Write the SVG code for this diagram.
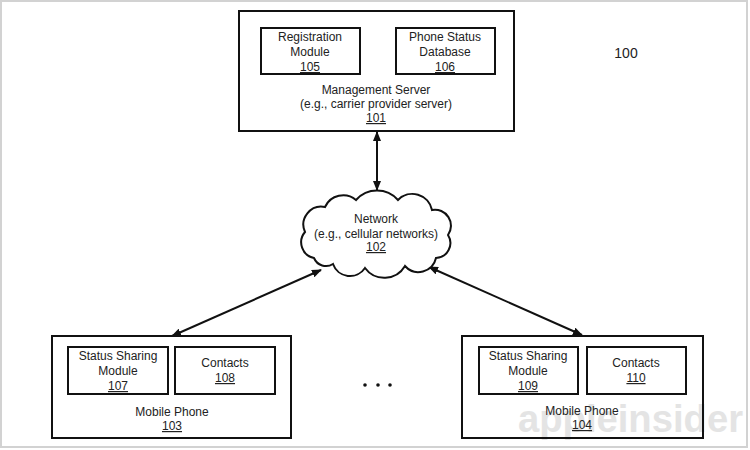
<svg xmlns="http://www.w3.org/2000/svg" width="750" height="450" viewBox="0 0 750 450">
<style>
.box{fill:#fff;stroke:#111;stroke-width:2}
.ibox{fill:#fff;stroke:#111;stroke-width:2}
text{font-family:"Liberation Sans",Arial,sans-serif;font-size:12px;fill:#222;text-anchor:middle}
.u{text-decoration:underline}
.conn{stroke:#111;stroke-width:2;fill:none;marker-start:url(#ah);marker-end:url(#ah)}
.wm{font-size:38px;font-weight:bold;fill:#e4e4e4;text-anchor:start}
</style>
<defs>
<marker id="ah" viewBox="0 0 10 8" refX="9" refY="4" markerWidth="10" markerHeight="8" markerUnits="userSpaceOnUse" orient="auto-start-reverse">
<path d="M0,0 L10,4 L0,8 Z" fill="#111"/>
</marker>
</defs>
<rect x="0" y="0" width="750" height="450" fill="#fff"/>
<rect x="1" y="1" width="746" height="446" fill="none" stroke="#d2d2d2" stroke-width="2"/>
<text class="wm" x="518" y="432" textLength="225" lengthAdjust="spacingAndGlyphs">appleinsider</text>

<g id="connectors">
<line class="conn" x1="377" y1="132" x2="377" y2="190"/>
<line class="conn" x1="321" y1="270" x2="172" y2="336"/>
<line class="conn" x1="429" y1="267" x2="582" y2="335"/>
<line x1="360" y1="52" x2="396" y2="52" stroke="#111" stroke-width="2"/>
</g>

<g id="n101">
<rect class="box" x="239" y="11" width="275" height="120"/>
<text x="376" y="94">Management Server</text>
<text x="376" y="108">(e.g., carrier provider server)</text>
<text class="u" x="376" y="122">101</text>
</g>
<g id="n105">
<rect class="ibox" x="261" y="28" width="99" height="46"/>
<text x="310" y="41">Registration</text>
<text x="310" y="56">Module</text>
<text class="u" x="310" y="71">105</text>
</g>
<g id="n106">
<rect class="ibox" x="396" y="28" width="99" height="46"/>
<text x="445" y="41">Phone Status</text>
<text x="445" y="56">Database</text>
<text class="u" x="445" y="71">106</text>
</g>

<g id="n102">
<path d="M314,258 A16,16 0 0 1 305,232 A18,18 0 0 1 325,207 A20,20 0 0 1 356,200 A28,28 0 0 1 398,200 A20,20 0 0 1 432,210 A16,16 0 0 1 448,235 A15,15 0 0 1 436,258 A18,18 0 0 1 405,266 A24,24 0 0 1 365,268 A18,18 0 0 1 333,264 A13,13 0 0 1 314,258 Z" fill="#fff" stroke="#111" stroke-width="2"/>
<text x="376" y="223">Network</text>
<text x="376" y="238">(e.g., cellular networks)</text>
<text class="u" x="376" y="251">102</text>
</g>

<g id="n103">
<rect class="box" x="52" y="336" width="239" height="102"/>
<text x="172" y="416">Mobile Phone</text>
<text class="u" x="172" y="430">103</text>
</g>
<g id="n107">
<rect class="ibox" x="68" y="347" width="100" height="47"/>
<text x="118" y="360">Status Sharing</text>
<text x="118" y="375">Module</text>
<text class="u" x="118" y="390">107</text>
</g>
<g id="n108">
<rect class="ibox" x="175" y="347" width="100" height="47"/>
<text x="225" y="367">Contacts</text>
<text class="u" x="225" y="382">108</text>
</g>

<g id="n104">
<rect class="box" x="462" y="336" width="241" height="102" fill="none" style="fill:none"/>
<text x="582" y="415">Mobile Phone</text>
<text class="u" x="582" y="429">104</text>
</g>
<g id="n109">
<rect class="ibox" x="479" y="347" width="99" height="47"/>
<text x="528" y="360">Status Sharing</text>
<text x="528" y="375">Module</text>
<text class="u" x="528" y="390">109</text>
</g>
<g id="n110">
<rect class="ibox" x="587" y="347" width="99" height="47"/>
<text x="636" y="367">Contacts</text>
<text class="u" x="636" y="382">110</text>
</g>

<g id="dots" fill="#111">
<circle cx="365" cy="385" r="1.8"/>
<circle cx="378" cy="385" r="1.8"/>
<circle cx="390" cy="385" r="1.8"/>
</g>
<text x="626" y="58" style="font-size:14px">100</text>
</svg>
